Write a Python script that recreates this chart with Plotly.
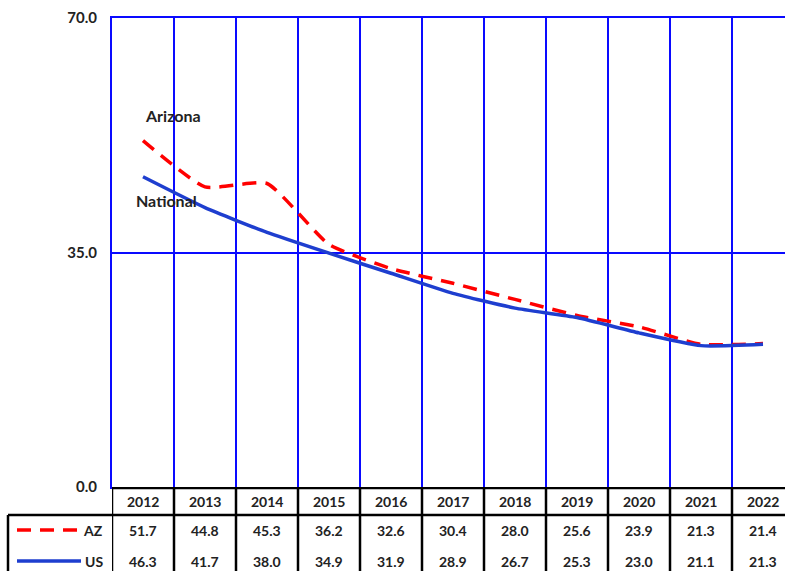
import plotly.graph_objects as go

years = [2012, 2013, 2014, 2015, 2016, 2017, 2018, 2019, 2020, 2021, 2022]
az = [51.7, 44.8, 45.3, 36.2, 32.6, 30.4, 28.0, 25.6, 23.9, 21.3, 21.4]
us = [46.3, 41.7, 38.0, 34.9, 31.9, 28.9, 26.7, 25.3, 23.0, 21.1, 21.3]
y_ticks = [0, 35, 70]

W, H = 785, 571
L, T, B = 112, 18, 487   # plot-area pixel edges
COLW = 62
GRID = "#0a0aff"
USC = "#1e3ecf"
AZC = "#ff0000"
TXT = "#222222"
FONT = "Lato"

x0 = years[0] - 0.5
x1 = x0 + (W - L) / COLW

fig = go.Figure()
fig.add_trace(go.Scatter(x=years, y=az, mode="lines", name="AZ",
                         line=dict(color=AZC, width=3.5, dash="14px,9px", shape="spline", smoothing=0.5),
                         xaxis="x", yaxis="y", showlegend=False))
fig.add_trace(go.Scatter(x=years, y=us, mode="lines", name="US",
                         line=dict(color=USC, width=3.5, shape="spline", smoothing=0.5),
                         xaxis="x", yaxis="y", showlegend=False))

# table axes (pixel-like units: value = H - pixel_y)
row_hdr_top, row_hdr_bot = H - B - 1, H - 515
row_hdr, row_az, row_us = H - 501, H - 530, H - 561

shapes = []
for i in range(len(years) + 1):
    xv = x0 + i
    shapes.append(dict(type="line", xref="x2", yref="y2", x0=xv, x1=xv, y0=0, y1=row_hdr_top,
                       line=dict(color="black", width=2.5), layer="above"))
for yv in (row_hdr_top, row_hdr_bot):
    shapes.append(dict(type="line", xref="x2", yref="y2", x0=x0, x1=x1, y0=yv, y1=yv,
                       line=dict(color="black", width=2.5), layer="above"))
shapes.append(dict(type="line", xref="paper", yref="y2", x0=8 / W, x1=L / W, y0=row_hdr_bot, y1=row_hdr_bot,
                   line=dict(color="black", width=2.5)))
shapes.append(dict(type="line", xref="paper", yref="y2", x0=8 / W, x1=8 / W, y0=0, y1=row_hdr_bot,
                   line=dict(color="black", width=2.5)))
shapes.append(dict(type="line", xref="paper", yref="y2", x0=17 / W, x1=81 / W, y0=row_az, y1=row_az,
                   line=dict(color=AZC, width=3.5, dash="14px,9px")))
shapes.append(dict(type="line", xref="paper", yref="y2", x0=17 / W, x1=81 / W, y0=row_us, y1=row_us,
                   line=dict(color=USC, width=3.5)))

annotations = []
tf = dict(family=FONT, size=14, color=TXT, weight="bold")
for yr, a, u in zip(years, az, us):
    annotations.append(dict(x=yr, y=row_hdr, xref="x2", yref="y2", text=str(yr), showarrow=False, font=tf))
    annotations.append(dict(x=yr, y=row_az, xref="x2", yref="y2", text=f"{a:.1f}", showarrow=False, font=tf))
    annotations.append(dict(x=yr, y=row_us, xref="x2", yref="y2", text=f"{u:.1f}", showarrow=False, font=tf))
annotations.append(dict(x=105 / W, y=row_az, xref="paper", yref="y2", text="AZ", xanchor="right",
                        showarrow=False, font=tf))
annotations.append(dict(x=105 / W, y=row_us, xref="paper", yref="y2", text="US", xanchor="right",
                        showarrow=False, font=tf))
lf = dict(family=FONT, size=16, color=TXT, weight="bold")
annotations.append(dict(x=years[0] + 0.0, y=55.4, xref="x", yref="y", text="Arizona", xanchor="left",
                        showarrow=False, font=lf))
annotations.append(dict(x=years[0] - 0.14, y=42.7, xref="x", yref="y", text="National", xanchor="left",
                        showarrow=False, font=lf))

fig.update_layout(
    width=W, height=H,
    margin=dict(l=0, r=0, t=0, b=0, autoexpand=False),
    paper_bgcolor="white", plot_bgcolor="white",
    font=dict(family=FONT, size=14, color=TXT),
    xaxis=dict(domain=[L / W, 1], range=[x0, x1], anchor="y", automargin=False,
               tick0=x0, dtick=1, showgrid=True, gridcolor=GRID, gridwidth=2,
               showticklabels=False, zeroline=False, ticks="",
               showline=True, mirror=True, linecolor=GRID, linewidth=2),
    yaxis=dict(domain=[(H - B) / H, (H - T) / H], range=[0, 70], anchor="x", automargin=False,
               tickvals=y_ticks, ticktext=[f"{v:.1f}" for v in y_ticks],
               tickfont=dict(family=FONT, size=15, color=TXT, weight="bold"),
               ticklabelstandoff=10,
               showgrid=True, gridcolor=GRID, gridwidth=2, zeroline=False,
               showline=True, linecolor=GRID, linewidth=2, ticks="", ticklen=0),
    xaxis2=dict(domain=[L / W, 1], range=[x0, x1], anchor="y2", visible=False, automargin=False),
    yaxis2=dict(domain=[0, (H - B) / H], range=[0, H - B], anchor="x2", visible=False, automargin=False),
    shapes=shapes,
    annotations=annotations,
)

fig.write_html("out.html", config={"displayModeBar": False},
               post_script="document.body.style.margin='0';")
